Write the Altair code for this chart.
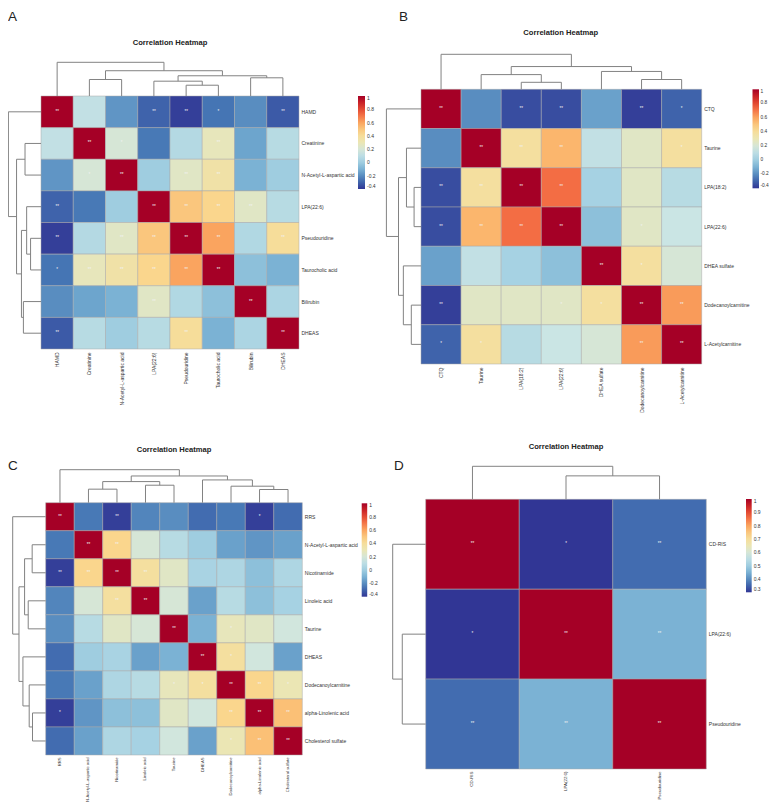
import altair as alt
import pandas as pd

# ------------------------------------------------------------------ data
A_labels = ["HAMD", "Creatinine", "N-Acetyl-L-aspartic acid", "LPA(22:6)",
            "Pseudouridine", "Taurocholic acid", "Bilirubin", "DHEAS"]
A_values = [
    [1.00, 0.12, -0.18, -0.30, -0.38, -0.26, -0.20, -0.32],
    [0.12, 1.00, 0.20, -0.25, 0.07, 0.28, -0.14, 0.08],
    [-0.18, 0.20, 1.00, 0.00, 0.25, 0.35, -0.10, 0.00],
    [-0.30, -0.25, 0.00, 1.00, 0.50, 0.45, 0.25, 0.08],
    [-0.38, 0.07, 0.25, 0.50, 1.00, 0.60, 0.06, 0.40],
    [-0.26, 0.28, 0.35, 0.45, 0.60, 1.00, -0.05, -0.10],
    [-0.20, -0.14, -0.10, 0.25, 0.06, -0.05, 1.00, 0.04],
    [-0.32, 0.08, 0.00, 0.08, 0.40, -0.10, 0.04, 1.00],
]
A_stars = [
    ["**", "", "", "**", "**", "*", "", "**"],
    ["", "**", "*", "", "", "**", "", ""],
    ["", "*", "**", "", "**", "**", "", ""],
    ["**", "", "", "**", "**", "**", "**", ""],
    ["**", "", "**", "**", "**", "**", "", "**"],
    ["*", "**", "**", "**", "**", "**", "", ""],
    ["", "", "", "**", "", "", "**", ""],
    ["**", "", "", "", "**", "", "", "**"],
]
A_merge_a = [1, 4, 3, 6, 10, 8, 0]
A_merge_b = [2, 5, 9, 7, 11, 12, 13]
A_merge_h = [0.49, 0.32, 0.44, 0.54, 0.60, 0.75, 1.0]

B_labels = ["CTQ", "Taurine", "LPA(18:2)", "LPA(22:6)", "DHEA sulfate",
            "Dodecanoylcarnitine", "L-Acetylcarnitine"]
B_values = [
    [1.00, -0.20, -0.35, -0.35, -0.15, -0.38, -0.30],
    [-0.20, 1.00, 0.38, 0.55, 0.12, 0.25, 0.38],
    [-0.35, 0.38, 1.00, 0.72, 0.02, 0.25, 0.08],
    [-0.35, 0.55, 0.72, 1.00, -0.05, 0.25, 0.15],
    [-0.15, 0.12, 0.02, -0.05, 1.00, 0.38, 0.20],
    [-0.38, 0.25, 0.25, 0.25, 0.38, 1.00, 0.62],
    [-0.30, 0.38, 0.08, 0.15, 0.20, 0.62, 1.00],
]
B_stars = [
    ["**", "", "**", "**", "", "**", "*"],
    ["", "**", "**", "**", "", "", "*"],
    ["**", "**", "**", "**", "", "", ""],
    ["**", "**", "**", "**", "", "*", ""],
    ["", "", "", "", "**", "*", ""],
    ["**", "", "", "*", "*", "**", "**"],
    ["*", "*", "", "", "", "**", "**"],
]
B_merge_a = [2, 1, 5, 4, 8, 0]
B_merge_b = [3, 7, 6, 9, 10, 11]
B_merge_h = [0.20, 0.42, 0.28, 0.51, 0.65, 1.0]

C_labels = ["RRS", "N-Acetyl-L-aspartic acid", "Nicotinamide", "Linoleic acid",
            "Taurine", "DHEAS", "Dodecanoylcarnitine", "alpha-Linolenic acid",
            "Cholesterol sulfate"]
C_values = [
    [1.00, -0.25, -0.38, -0.22, -0.20, -0.28, -0.25, -0.38, -0.28],
    [-0.25, 1.00, 0.45, 0.20, 0.08, 0.00, -0.15, -0.18, -0.15],
    [-0.38, 0.45, 1.00, 0.38, 0.25, 0.03, 0.05, -0.05, 0.05],
    [-0.22, 0.20, 0.38, 1.00, 0.20, -0.15, 0.08, -0.05, 0.02],
    [-0.20, 0.08, 0.25, 0.20, 1.00, -0.10, 0.28, 0.25, 0.18],
    [-0.28, 0.00, 0.03, -0.15, -0.10, 1.00, 0.38, 0.18, -0.15],
    [-0.25, -0.15, 0.05, 0.08, 0.28, 0.38, 1.00, 0.45, 0.30],
    [-0.38, -0.18, -0.05, -0.05, 0.25, 0.18, 0.45, 1.00, 0.52],
    [-0.28, -0.15, 0.05, 0.02, 0.18, -0.15, 0.30, 0.52, 1.00],
]
C_stars = [
    ["**", "", "**", "", "", "", "", "*", ""],
    ["", "**", "**", "", "", "", "", "", ""],
    ["**", "**", "**", "**", "", "", "", "", ""],
    ["", "", "**", "**", "", "", "", "", ""],
    ["", "", "", "", "**", "", "*", "", ""],
    ["", "", "", "", "", "**", "*", "", ""],
    ["", "", "", "", "*", "*", "**", "**", "*"],
    ["*", "", "", "", "", "", "**", "**", "**"],
    ["", "", "", "", "", "", "*", "**", "**"],
]
C_merge_a = [1, 3, 9, 7, 6, 5, 11, 0]
C_merge_b = [2, 4, 10, 8, 12, 13, 14, 15]
C_merge_h = [0.41, 0.53, 0.64, 0.40, 0.50, 0.69, 0.81, 1.0]

D_labels = ["CD-RIS", "LPA(22:6)", "Pseudouridine"]
D_values = [
    [1.00, 0.30, 0.36],
    [0.30, 1.00, 0.45],
    [0.36, 0.45, 1.00],
]
D_stars = [
    ["**", "*", "**"],
    ["*", "**", "**"],
    ["**", "**", "**"],
]
D_merge_a = [1, 0]
D_merge_b = [2, 3]
D_merge_h = [0.71, 1.0]

A_legend_ticks = [-0.4, -0.2, 0, 0.2, 0.4, 0.6, 0.8, 1]
D_legend_ticks = [0.3, 0.4, 0.5, 0.6, 0.7, 0.8, 0.9, 1]
TITLE = "Correlation Heatmap"

# colour ramp (blue -> pale -> red), muted in the middle like the reference
RAMP = ["#313695", "#4575b4", "#74add1", "#a6d2e3", "#cde6e4", "#ebe6b4",
        "#fad990", "#fbad63", "#f36d44", "#d73027", "#a50026"]

# ------------------------------------------------------------------ layout (page pixels)
panels = [
    dict(tag="A", labels=A_labels, values=A_values, stars=A_stars,
         ma=A_merge_a, mb=A_merge_b, mh=A_merge_h, dom=[-0.4, 1], ticks=A_legend_ticks,
         x0=41.0, x1=299.0, y0=96.0, y1=349.0, dtop=33.7, dleft=32.6, cfs=5.0, cgap=3.5,
         tx=170, ty=42.5, lx=8, ly=20.5, gx=358, gy=96, glen=93, gth=7, lfs=5, loff=2),
    dict(tag="B", labels=B_labels, values=B_values, stars=B_stars,
         ma=B_merge_a, mb=B_merge_b, mh=B_merge_h, dom=[-0.4, 1], ticks=A_legend_ticks,
         x0=421.0, x1=701.7, y0=89.3, y1=364.0, dtop=35.0, dleft=34.6, cfs=5.0, cgap=3.5,
         tx=560.7, ty=33, lx=399, ly=20.5, gx=752.5, gy=89.3, glen=99, gth=6.5, lfs=4.8, loff=1.5),
    dict(tag="C", labels=C_labels, values=C_values, stars=C_stars,
         ma=C_merge_a, mb=C_merge_b, mh=C_merge_h, dom=[-0.4, 1], ticks=A_legend_ticks,
         x0=45.7, x1=302.3, y0=502.7, y1=755.0, dtop=33.0, dleft=33.0, cfs=4.2, cgap=2.5,
         tx=174, ty=450, lx=8, ly=470, gx=361.7, gy=503.3, glen=93.4, gth=5.5, lfs=5, loff=2),
    dict(tag="D", labels=D_labels, values=D_values, stars=D_stars,
         ma=D_merge_a, mb=D_merge_b, mh=D_merge_h, dom=[0.3, 1], ticks=D_legend_ticks,
         x0=425.7, x1=706.3, y0=499.3, y1=769.0, dtop=33.0, dleft=33.0, cfs=4.4, cgap=2.5,
         tx=566, ty=447, lx=394, ly=470, gx=746, gy=499, glen=93.3, gth=5.7, lfs=5, loff=2),
]

W, H = 761, 795
XS = alt.Scale(domain=[8, 8 + W])
YS = alt.Scale(domain=[8, 8 + H], reverse=True)
FONT = "Liberation Sans"


def dendro(n, ma, mb, mh):
    pos = {i: i + 0.5 for i in range(n)}
    hg = {i: 0.0 for i in range(n)}
    segs = []
    for k, (a, b, h) in enumerate(zip(ma, mb, mh)):
        for c in (a, b):
            segs.append((pos[c], hg[c], pos[c], h))
        segs.append((pos[a], h, pos[b], h))
        pos[n + k] = (pos[a] + pos[b]) / 2
        hg[n + k] = h
    return segs


layers = []
seg_rows, rowlab, collab, titles, letters = [], [], [], [], []
for p in panels:
    n = len(p["labels"])
    cw = (p["x1"] - p["x0"]) / n
    ch = (p["y1"] - p["y0"]) / n
    cells, stars = [], []
    for i in range(n):
        for j in range(n):
            cells.append(dict(x=p["x0"] + j * cw, x2=p["x0"] + (j + 1) * cw,
                              y=p["y0"] + i * ch, y2=p["y0"] + (i + 1) * ch,
                              v=p["values"][i][j]))
            if p["stars"][i][j]:
                stars.append(dict(x=p["x0"] + (j + 0.5) * cw,
                                  y=p["y0"] + (i + 0.5) * ch, t=p["stars"][i][j]))
    for i, lab in enumerate(p["labels"]):
        rowlab.append(dict(x=p["x1"] + 2.5, y=p["y0"] + (i + 0.5) * ch, t=lab))
        collab.append(dict(x=p["x0"] + (i + 0.5) * cw, y=p["y1"] + p["cgap"], t=lab,
                           fs=p["cfs"]))
    for (pa, ha, pb, hb) in dendro(n, p["ma"], p["mb"], p["mh"]):
        seg_rows.append(dict(x=p["x0"] + pa * cw, y=p["y0"] - ha * p["dtop"],
                             x2=p["x0"] + pb * cw, y2=p["y0"] - hb * p["dtop"]))
        seg_rows.append(dict(x=p["x0"] - ha * p["dleft"], y=p["y0"] + pa * ch,
                             x2=p["x0"] - hb * p["dleft"], y2=p["y0"] + pb * ch))
    titles.append(dict(x=p["tx"], y=p["ty"], t=TITLE))
    letters.append(dict(x=p["lx"], y=p["ly"], t=p["tag"]))

    lo, hi = p["dom"]
    stops = [lo + (hi - lo) * k / (len(RAMP) - 1) for k in range(len(RAMP))]
    heat = alt.Chart(pd.DataFrame(cells)).mark_rect(
        stroke="#a9a9a9", strokeWidth=0.5
    ).encode(
        x=alt.X("x:Q", scale=XS, axis=None),
        x2="x2:Q",
        y=alt.Y("y:Q", scale=YS, axis=None),
        y2="y2:Q",
        color=alt.Color(
            "v:Q",
            scale=alt.Scale(domain=stops, range=RAMP, interpolate="rgb"),
            legend=alt.Legend(
                orient="none", legendX=p["gx"] - 8, legendY=p["gy"] - 8,
                direction="vertical", title=None, padding=0,
                gradientLength=p["glen"], gradientThickness=p["gth"],
                gradientStrokeWidth=0, values=p["ticks"],
                labelFontSize=p["lfs"], labelFont=FONT, labelColor="#333333",
                labelOffset=p["loff"], labelOverlap=False,
                labelExpr="replace(format(datum.value, '~g'), '\u2212', '-')",
            ),
        ),
    )
    txt = alt.Chart(pd.DataFrame(stars)).mark_text(
        fontSize=4.5, color="#f2f2f2", font=FONT, baseline="middle"
    ).encode(
        x=alt.X("x:Q", scale=XS, axis=None),
        y=alt.Y("y:Q", scale=YS, axis=None),
        text="t:N",
    )
    layers += [heat, txt]

segs = alt.Chart(pd.DataFrame(seg_rows)).mark_rule(
    color="#828282", strokeWidth=1
).encode(
    x=alt.X("x:Q", scale=XS, axis=None), x2="x2:Q",
    y=alt.Y("y:Q", scale=YS, axis=None), y2="y2:Q",
)
rl = alt.Chart(pd.DataFrame(rowlab)).mark_text(
    align="left", baseline="middle", fontSize=5, font=FONT, color="#333333"
).encode(x=alt.X("x:Q", scale=XS, axis=None), y=alt.Y("y:Q", scale=YS, axis=None), text="t:N")
cl = alt.Chart(pd.DataFrame(collab)).mark_text(
    align="right", baseline="middle", angle=270, font=FONT, color="#333333"
).encode(x=alt.X("x:Q", scale=XS, axis=None), y=alt.Y("y:Q", scale=YS, axis=None),
         text="t:N", size=alt.Size("fs:Q", scale=None, legend=None))
tt = alt.Chart(pd.DataFrame(titles)).mark_text(
    align="center", baseline="middle", fontSize=7.6, fontWeight="bold", font=FONT, color="#222222"
).encode(x=alt.X("x:Q", scale=XS, axis=None), y=alt.Y("y:Q", scale=YS, axis=None), text="t:N")
lt = alt.Chart(pd.DataFrame(letters)).mark_text(
    align="left", baseline="alphabetic", fontSize=13.5, font=FONT, color="#222222"
).encode(x=alt.X("x:Q", scale=XS, axis=None), y=alt.Y("y:Q", scale=YS, axis=None), text="t:N")

chart = alt.layer(*layers, segs, rl, cl, tt, lt).resolve_scale(
    color="independent"
).properties(
    width=W, height=H, padding=0,
    autosize=alt.AutoSizeParams(type="none"),
).configure_view(strokeWidth=0)

chart.save("out.html", embed_options={"renderer": "svg", "actions": False})
